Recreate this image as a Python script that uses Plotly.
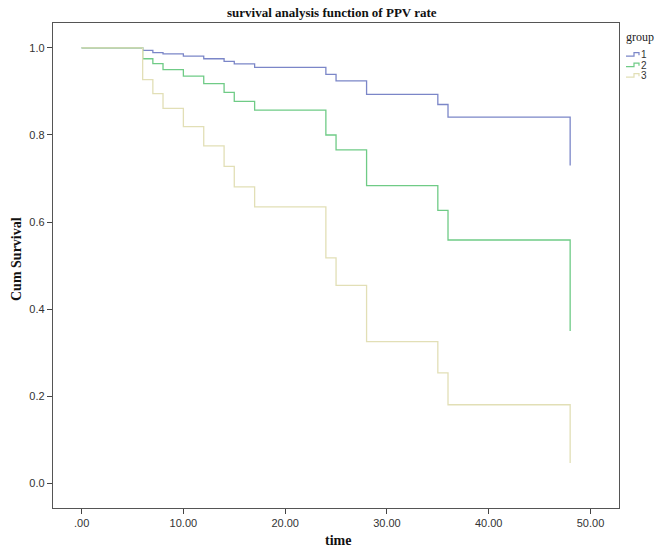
import plotly.graph_objects as go

# ---- data ----
groups = ["1", "2", "3"]

time_g1 = [0, 6, 7, 8, 10, 12, 14, 15, 17, 24, 25, 28, 35, 36, 48]
surv_g1 = [1.0, 0.994, 0.989, 0.986, 0.981, 0.975, 0.969, 0.963, 0.955, 0.939, 0.924, 0.893, 0.870, 0.841, 0.730]

time_g2 = [0, 6, 7, 8, 10, 12, 14, 15, 17, 24, 25, 28, 35, 36, 48]
surv_g2 = [1.0, 0.975, 0.964, 0.950, 0.935, 0.918, 0.898, 0.877, 0.857, 0.800, 0.766, 0.684, 0.627, 0.559, 0.350]

time_g3 = [0, 6, 7, 8, 10, 12, 14, 15, 17, 24, 25, 28, 35, 36, 48]
surv_g3 = [1.0, 0.927, 0.895, 0.861, 0.819, 0.775, 0.728, 0.681, 0.635, 0.518, 0.455, 0.326, 0.254, 0.181, 0.047]

x_tickvals = [0, 10, 20, 30, 40, 50]
x_ticktext = [".00", "10.00", "20.00", "30.00", "40.00", "50.00"]
y_tickvals = [0.0, 0.2, 0.4, 0.6, 0.8, 1.0]

colors = ["#7b86c8", "#6fcb86", "#e2dfb6"]

# ---- layout geometry (pixels) ----
W, H = 661, 549
L, R, T, B = 53, 42, 23, 41
PW = W - L - R
PH = H - T - B


def px(xp):
    return (xp - L) / PW


def py(yp):
    return (H - B - yp) / PH


fig = go.Figure()
for name, t, s, c in zip(groups, [time_g1, time_g2, time_g3],
                         [surv_g1, surv_g2, surv_g3], colors):
    fig.add_trace(go.Scatter(
        x=t, y=s, mode="lines", name=name,
        line=dict(shape="hv", color=c, width=1.3),
        showlegend=False, hoverinfo="x+y",
    ))

serif = "Liberation Serif"
sans = "Liberation Sans"

annotations = [
    dict(text="<b>Cum Survival</b>", xref="paper", yref="paper",
         x=px(16), y=py(259), textangle=-90, showarrow=False,
         font=dict(family=serif, size=14, color="#111"),
         xanchor="center", yanchor="middle"),
    dict(text="<b>time</b>", xref="paper", yref="paper",
         x=px(338), y=py(540), showarrow=False,
         font=dict(family=serif, size=14, color="#111"),
         xanchor="center", yanchor="middle"),
    dict(text="group", xref="paper", yref="paper",
         x=px(624), y=py(37), showarrow=False,
         font=dict(family=serif, size=12, color="#222"),
         xanchor="left", yanchor="middle"),
]

shapes = []
item_y = [55, 65.5, 76]
for name, c, yc in zip(groups, colors, item_y):
    x0, x1, x2 = 626, 634, 639
    ylow, yhigh, yend = yc + 1.2, yc - 2.3, yc + 0.3
    path = (f"M {px(x0)},{py(ylow)} L {px(x1)},{py(ylow)} "
            f"L {px(x1)},{py(yhigh)} L {px(x2)},{py(yhigh)} L {px(x2)},{py(yend)}")
    shapes.append(dict(type="path", xref="paper", yref="paper", path=path,
                       line=dict(color=c, width=1.2)))
    annotations.append(dict(text=name, xref="paper", yref="paper",
                            x=px(640), y=py(yc), showarrow=False,
                            font=dict(family=sans, size=10, color="#333"),
                            xanchor="left", yanchor="middle", borderpad=0))

fig.update_layout(
    width=W, height=H,
    margin=dict(l=L, r=R, t=T, b=B, pad=0),
    paper_bgcolor="white", plot_bgcolor="white",
    title=dict(text="<b>survival analysis function of PPV rate</b>",
               font=dict(family=serif, size=13, color="#111"),
               x=0.502, xref="container", xanchor="center",
               y=1 - 12 / H, yref="container", yanchor="middle"),
    annotations=annotations,
    shapes=shapes,
    showlegend=False,
)

fig.update_xaxes(
    range=[-2.81, 52.8], tickvals=x_tickvals, ticktext=x_ticktext,
    ticks="outside", ticklen=5, tickwidth=1, tickcolor="#444",
    showline=True, linecolor="#555", linewidth=1.3, mirror=True,
    showgrid=False, zeroline=False,
    tickfont=dict(family=sans, size=11, color="#333"),
)
fig.update_yaxes(
    range=[-0.056, 1.057], tickvals=y_tickvals, tickformat=".1f",
    ticks="outside", ticklen=5, tickwidth=1, tickcolor="#444",
    showline=True, linecolor="#555", linewidth=1.3, mirror=True,
    showgrid=False, zeroline=False,
    tickfont=dict(family=sans, size=11, color="#333"),
)

fig.write_html(
    "out.html",
    config={"displayModeBar": False},
    post_script="document.body.style.margin='0';document.body.style.overflow='hidden';",
)
